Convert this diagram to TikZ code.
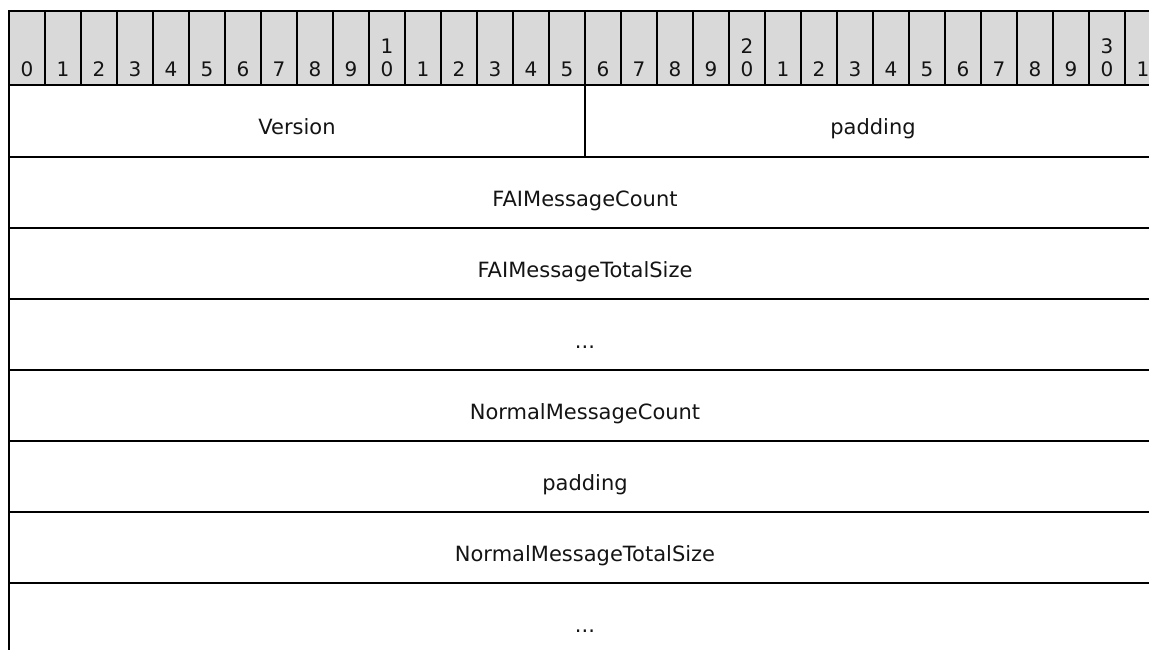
\documentclass[tikz,border=0pt]{standalone}
\usepackage{fontspec}
\setmainfont{DejaVu Sans}
\definecolor{hdrgray}{RGB}{217,217,217}
\definecolor{txtcol}{RGB}{20,20,20}
\begin{document}
\begin{tikzpicture}[x=1pt,y=-1pt,
  rule/.style={line width=2pt, draw=black},
  digit/.style={font=\fontsize{20pt}{23pt}\selectfont, text=txtcol, anchor=base, inner sep=0pt},
  field/.style={font=\fontsize{21pt}{25pt}\selectfont, text=txtcol, anchor=base, inner sep=0pt}]
\useasboundingbox (0,0) rectangle (1149,650);
\clip (0,0) rectangle (1149,650);
% header background
\fill[hdrgray] (9,11) rectangle (1161,85);
% header digits
\foreach \k in {0,...,31} {
  \pgfmathtruncatemacro\lo{mod(\k,10)}
  \pgfmathtruncatemacro\hi{div(\k,10)}
  \node[digit] (lo\k) at ({27+36*\k},77) {\lo};
  \ifnum\lo=0 \ifnum\k>0
    \node[digit] (hi\k) at ({27+36*\k},54) {\hi};
  \fi\fi
}
% header dividers
\foreach \k in {1,...,31} {
  \draw[rule] ({9+36*\k},11) -- ({9+36*\k},85);
}
% outer frame
\draw[rule] (9,700) -- (9,11) -- (1161,11) -- (1161,700);
% row separators
\foreach \y in {85,157,228,299,370,441,512,583} {
  \draw[rule] (9,\y) -- (1161,\y);
}
\draw[rule] (585,85) -- (585,157);
% field labels
\node[field] (ver) at (297,135) {Version};
\node[field] (pad1) at (873,135) {padding};
\node[field] (faicount) at (585,206) {FAIMessageCount};
\node[field] (faisize) at (585,277) {FAIMessageTotalSize};
\node[field] (dots1) at (585,348) {...};
\node[field] (normcount) at (585,419) {NormalMessageCount};
\node[field] (pad2) at (585,490) {padding};
\node[field] (normsize) at (585,561) {NormalMessageTotalSize};
\node[field] (dots2) at (585,632) {...};
\end{tikzpicture}
\end{document}
